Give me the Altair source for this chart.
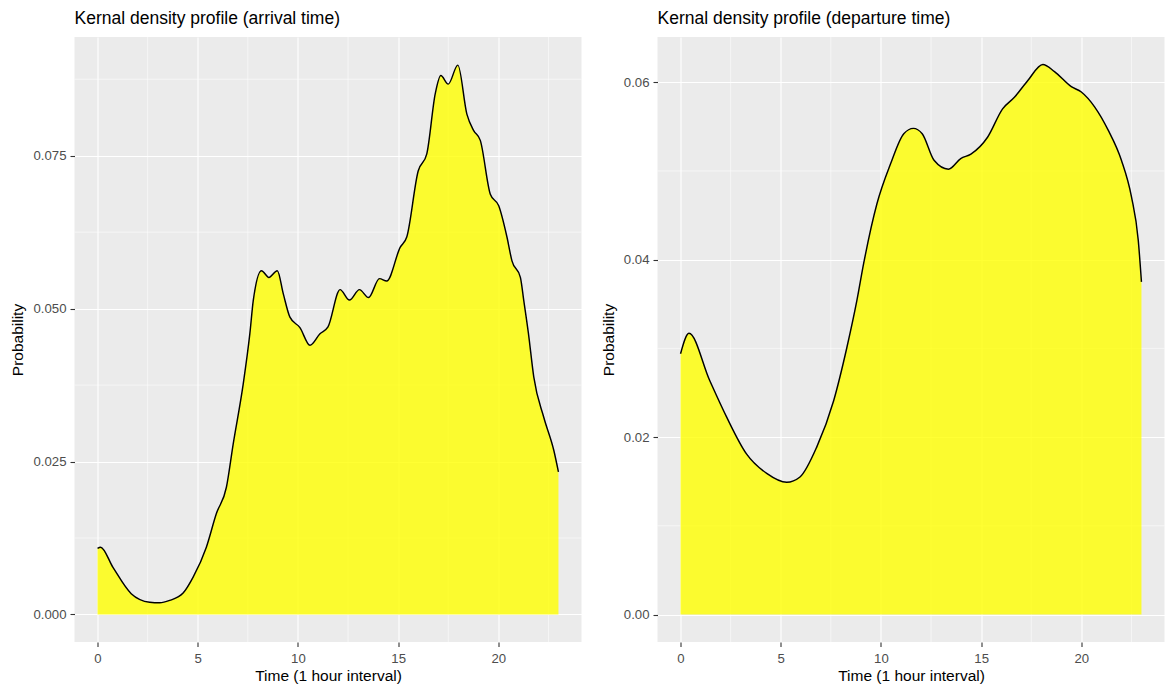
import altair as alt
import pandas as pd

# Arrival time density
arr_t = [0.0, 0.15, 0.77, 1.68, 2.6, 3.1, 3.6, 4.27, 4.77, 5.43, 5.93, 6.43, 6.77, 7.27, 7.6, 7.77,
         8.18, 8.55, 8.97, 9.27, 9.6, 10.1, 10.6, 11.1, 11.5, 12.1, 12.57, 13.07, 13.52, 14.07, 14.43,
         15.1, 15.43, 16.0, 16.43, 16.85, 17.13, 17.5, 17.98, 18.43, 18.77, 19.1, 19.6, 20.02, 20.43,
         20.68, 21.1, 21.27, 21.5, 21.77, 22.27, 22.77, 23.0]
arr_y = [0.0108, 0.0110, 0.0077, 0.0034, 0.0020, 0.0019, 0.0023, 0.0035, 0.0061, 0.0110, 0.0165, 0.0208,
         0.0279, 0.0377, 0.0459, 0.0513, 0.0562, 0.0551, 0.0562, 0.0524, 0.0486, 0.0469, 0.0440, 0.0459,
         0.0470, 0.0531, 0.0514, 0.0531, 0.0518, 0.0549, 0.0545, 0.0600, 0.0617, 0.0725, 0.0753, 0.0851,
         0.0881, 0.0867, 0.0898, 0.0818, 0.0791, 0.0775, 0.0687, 0.0668, 0.0617, 0.0578, 0.0551, 0.0513,
         0.0460, 0.0388, 0.0322, 0.0268, 0.0233]

# Departure time density
dep_t = [0.0, 0.42, 1.45, 2.29, 3.29, 4.3, 5.3, 5.96, 6.8, 7.64, 8.3, 8.8, 9.14, 9.8, 10.48, 11.14,
         11.62, 12.06, 12.65, 13.37, 13.98, 14.49, 15.32, 16.07, 16.66, 17.33, 18.08, 18.66, 19.5,
         20.0, 20.67, 21.34, 22.0, 22.5, 22.84, 23.0]
dep_y = [0.0294, 0.0317, 0.0264, 0.0223, 0.0181, 0.0159, 0.0149, 0.0155, 0.0189, 0.0241, 0.0301,
         0.0354, 0.0396, 0.0463, 0.0508, 0.0542, 0.0548, 0.0542, 0.0512, 0.0502, 0.0514, 0.0519,
         0.0538, 0.0570, 0.0583, 0.0602, 0.0620, 0.0612, 0.0595, 0.0589, 0.0572, 0.0546, 0.0512,
         0.0471, 0.0422, 0.0375]

x_major = [0, 5, 10, 15, 20]
x_minor = [2.5, 7.5, 12.5, 17.5, 22.5]
arr_y_major = [0.0, 0.025, 0.05, 0.075]
arr_y_minor = [0.0125, 0.0375, 0.0625, 0.0875]
dep_y_major = [0.0, 0.02, 0.04, 0.06]
dep_y_minor = [0.01, 0.03, 0.05]

FONT = "Liberation Sans"
W, H = 507, 605


def panel(ts, ys, ymajor, yminor, ydomain, yfmt, title):
    df = pd.DataFrame({"t": ts, "y": ys})
    xs = alt.Scale(domain=[-1.15, 24.15], nice=False, zero=False)
    ysc = alt.Scale(domain=ydomain, nice=False, zero=False)
    xax = alt.Axis(values=x_major, title="Time (1 hour interval)", grid=True)
    yax = alt.Axis(values=ymajor, format=yfmt, title="Probability", grid=True)

    vminor = alt.Chart(pd.DataFrame({"v": x_minor})).mark_rule(
        color="white", strokeWidth=0.55
    ).encode(x=alt.X("v:Q", scale=xs, axis=xax))
    hminor = alt.Chart(pd.DataFrame({"v": yminor})).mark_rule(
        color="white", strokeWidth=0.55
    ).encode(y=alt.Y("v:Q", scale=ysc, axis=yax))
    area = alt.Chart(df).mark_area(
        color="yellow", opacity=0.8, interpolate="monotone", clip=True
    ).encode(
        x=alt.X("t:Q", scale=xs, axis=xax),
        y=alt.Y("y:Q", scale=ysc, axis=yax),
        y2=alt.datum(0),
    )
    line = alt.Chart(df).mark_line(
        color="black", strokeWidth=1.45, interpolate="monotone", clip=True
    ).encode(
        x=alt.X("t:Q", scale=xs, axis=xax),
        y=alt.Y("y:Q", scale=ysc, axis=yax),
    )
    return alt.layer(vminor, hminor, area, line).properties(
        width=W, height=H,
        title=alt.TitleParams(title, anchor="start", frame="group", fontSize=17.5, font=FONT,
                              fontWeight="normal", color="black", offset=9),
    )


left = panel(arr_t, arr_y, arr_y_major, arr_y_minor, [-0.0045, 0.0944], ".3f",
             "Kernal density profile (arrival time)")
right = panel(dep_t, dep_y, dep_y_major, dep_y_minor, [-0.0031, 0.0651], ".2f",
              "Kernal density profile (departure time)")

chart = alt.hconcat(left, right, spacing=18).properties(
    padding={"left": 2.5, "top": 2, "right": 0, "bottom": 0}
).configure(
    background="white"
).configure_view(
    fill="#EBEBEB", stroke=None
).configure_axis(
    domain=False,
    gridColor="white", gridWidth=1.1,
    tickColor="#333333", tickSize=4.5, tickWidth=1.1,
    labelColor="#4D4D4D", labelFontSize=13.2, labelFont=FONT,
    titleColor="black", titleFontSize=15.5, titleFont=FONT, titleFontWeight="normal",
).configure_axisX(
    labelPadding=6, titlePadding=4,
).configure_axisY(
    labelPadding=4, titlePadding=7,
)

chart.save("out.html", embed_options={"renderer": "svg", "actions": False})
